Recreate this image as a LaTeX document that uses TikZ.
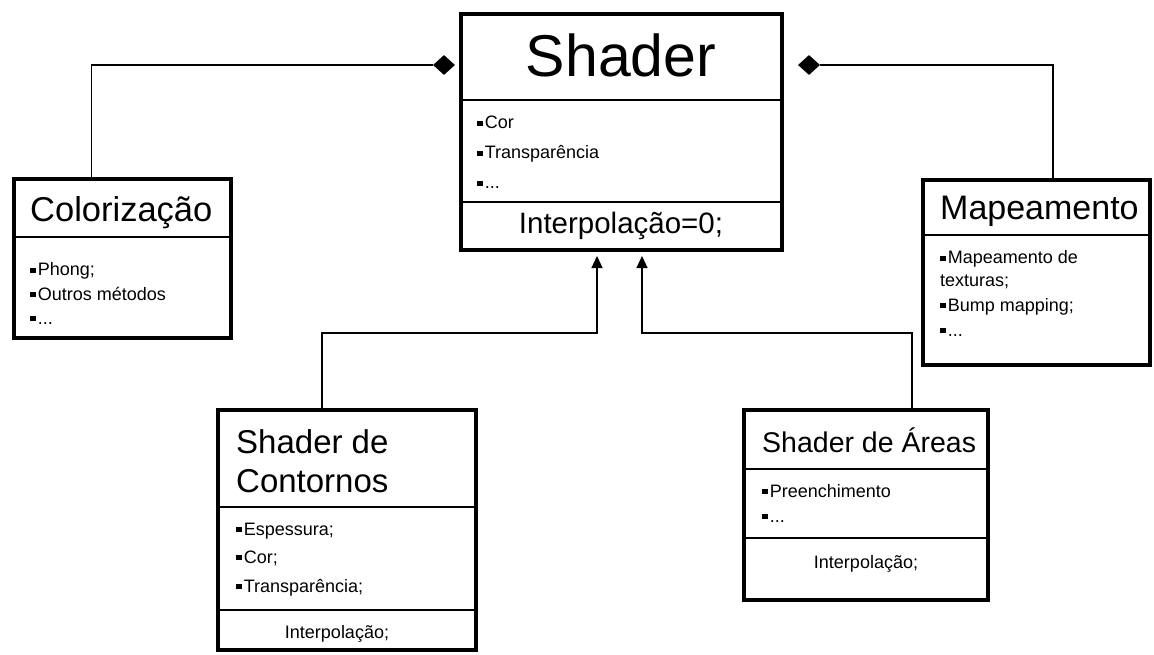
\documentclass[tikz,border=0pt]{standalone}
\usepackage{fontspec}
\setmainfont{Liberation Sans}
\usetikzlibrary{shapes.geometric,arrows.meta}
\newcommand\sqb{\rule[0.15em]{0.3em}{0.3em}\kern0.12em}
\begin{document}
\begin{tikzpicture}[x=1pt,y=-1pt,
  umlbox/.style={draw, line width=4.5pt, inner sep=0, outer sep=0, anchor=north west},
  sepline/.style={line width=1.4pt},
  conn/.style={line width=1.2pt},
  inh/.style={conn, -{Triangle[length=12pt,width=11pt]}, shorten >=6pt},
  dmd/.style={diamond, fill=black, draw=none, inner sep=0, minimum width=22pt, minimum height=20pt},
  small/.style={inner sep=0, anchor=base west, font=\fontsize{18}{21}\selectfont},
  ttl/.style={inner sep=0, anchor=base west, font=\fontsize{33}{38}\selectfont}]
\useasboundingbox (0,0) rectangle (1154,655);

% boxes
\node[umlbox, minimum width=321pt, minimum height=236pt] (shader) at (461,14) {};
\node[umlbox, minimum width=217pt, minimum height=159pt] (colo) at (14,179) {};
\node[umlbox, minimum width=227pt, minimum height=185pt] (mapa) at (923,180) {};
\node[umlbox, minimum width=258pt, minimum height=240pt] (cont) at (218,410) {};
\node[umlbox, minimum width=244pt, minimum height=190pt] (area) at (744,410) {};

% separators
\draw[sepline] ([yshift=-86pt]shader.north west) -- ([yshift=-86pt]shader.north east);
\draw[sepline] ([yshift=-188pt]shader.north west) -- ([yshift=-188pt]shader.north east);
\draw[sepline] ([yshift=-58pt]colo.north west) -- ([yshift=-58pt]colo.north east);
\draw[sepline] ([yshift=-55pt]mapa.north west) -- ([yshift=-55pt]mapa.north east);
\draw[sepline] ([yshift=-97pt]cont.north west) -- ([yshift=-97pt]cont.north east);
\draw[sepline] ([yshift=-200pt]cont.north west) -- ([yshift=-200pt]cont.north east);
\draw[sepline] ([yshift=-59pt]area.north west) -- ([yshift=-59pt]area.north east);
\draw[sepline] ([yshift=-128pt]area.north west) -- ([yshift=-128pt]area.north east);

% diamonds
\node[dmd] (dl) at (444,65) {};
\node[dmd] (dr) at (809,65) {};

% connectors
\draw[conn] ([xshift=-31pt]colo.north) |- (dl.west);
\draw[conn] ([xshift=16.5pt]mapa.north) |- (dr.east);
\draw[inh] ([xshift=-25pt]cont.north) -- ++(0,-77) -| ([xshift=136pt]shader.south west);
\draw[inh] ([xshift=46pt]area.north) -- ++(0,-77) -| ([xshift=181pt]shader.south west);

% Shader texts
\node[inner sep=0, anchor=base, font=\fontsize{59}{64}\selectfont] (st) at (621,77) {Shader};
\node[small] (s1) at (477,129) {\sqb Cor};
\node[small] (s2) at (477,159) {\sqb Transparência};
\node[small] (s3) at (477,189) {\sqb ...};
\node[inner sep=0, anchor=base, font=\fontsize{29.5}{34}\selectfont] (s4) at (621,234) {Interpolação=0;};

% Colorização
\node[ttl, font=\fontsize{34.5}{38}\selectfont] (ct) at (30,222) {Colorização};
\node[small] (c1) at (30,276) {\sqb Phong;};
\node[small] (c2) at (30,300) {\sqb Outros métodos};
\node[small] (c3) at (30,324) {\sqb ...};

% Mapeamento
\node[ttl, font=\fontsize{34}{38}\selectfont] (mt) at (940,220) {Mapeamento};
\node[small] (m1) at (940,264) {\sqb Mapeamento de};
\node[small] (m2) at (940,287) {texturas;};
\node[small] (m3) at (940,311) {\sqb Bump mapping;};
\node[small] (m4) at (940,336) {\sqb ...};

% Shader de Contornos
\node[ttl] (kt1) at (236,453) {Shader de};
\node[ttl] (kt2) at (236,492) {Contornos};
\node[small] (k1) at (236,535) {\sqb Espessura;};
\node[small] (k2) at (236,563) {\sqb Cor;};
\node[small] (k3) at (236,592) {\sqb Transparência;};
\node[small, anchor=base] (k4) at (337,638) {Interpolação;};

% Shader de Áreas
\node[ttl, font=\fontsize{28.5}{34}\selectfont] (at) at (762,452) {Shader de Áreas};
\node[small] (a1) at (762,497) {\sqb Preenchimento};
\node[small] (a2) at (762,522) {\sqb ...};
\node[small, anchor=base] (a3) at (866,568) {Interpolação;};
\end{tikzpicture}
\end{document}
